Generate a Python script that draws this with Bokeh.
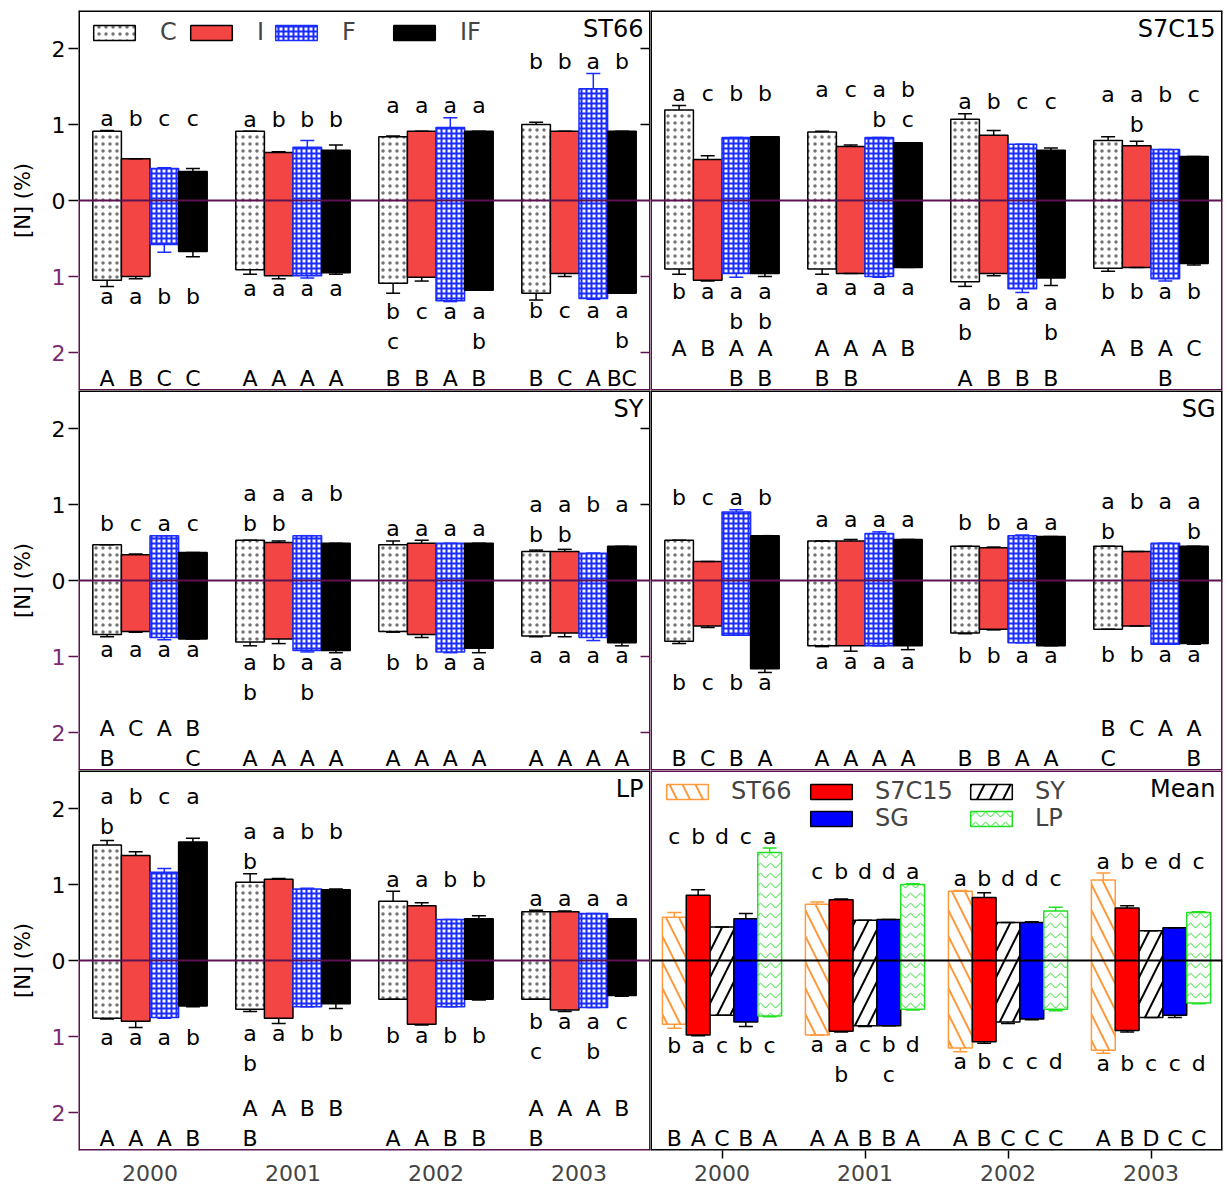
import math
from bokeh.plotting import figure
from bokeh.models import (Range1d, LinearAxis, FixedTicker, CustomJSTickFormatter, Label,
                          Span, Legend, LegendItem)
from bokeh.layouts import gridplot
from bokeh.embed import file_html
from bokeh.resources import INLINE
from bokeh.core.properties import value

# ---------------------------------------------------------------- data
YEARS = ["2000", "2001", "2002", "2003"]
TREATMENTS = ["C", "I", "F", "IF"]
GENOTYPES = ["ST66", "S7C15", "SY", "SG", "LP"]
Y_TICKS = [-2, -1, 0, 1, 2]

# values are year-major: 2000 (C, I, F, IF), 2001 (...), ...
ST66_UP = [0.91, 0.55, 0.42, 0.38, 0.91, 0.63, 0.70, 0.66, 0.84, 0.91, 0.96, 0.91, 1.00, 0.91, 1.47, 0.91]
ST66_UP_ERR = [0.01, 0.00, 0.01, 0.04, 0.00, 0.01, 0.09, 0.07, 0.01, 0.00, 0.13, 0.00, 0.03, 0.00, 0.20, 0.00]
ST66_LO = [1.05, 1.00, 0.58, 0.67, 0.91, 0.99, 0.99, 0.95, 1.09, 1.01, 1.32, 1.18, 1.22, 0.96, 1.29, 1.22]
ST66_LO_ERR = [0.08, 0.03, 0.10, 0.07, 0.06, 0.04, 0.03, 0.02, 0.13, 0.05, 0.01, 0.00, 0.09, 0.04, 0.01, 0.00]
ST66_ABOVE = ["a", "b", "c", "c", "a", "b", "b", "b", "a", "a", "a", "a", "b", "b", "a", "b"]
ST66_BELOW = ["a", "a", "b", "b", "a", "a", "a", "a", "b\nc", "c", "a", "a\nb", "b", "c", "a", "a\nb"]
ST66_CAPS = ["A", "B", "C", "C", "A", "A", "A", "A", "B", "B", "A", "B", "B", "C", "A", "BC"]

S7C15_UP = [1.19, 0.54, 0.83, 0.84, 0.90, 0.71, 0.83, 0.76, 1.07, 0.86, 0.74, 0.66, 0.79, 0.72, 0.67, 0.58]
S7C15_UP_ERR = [0.06, 0.05, 0.00, 0.00, 0.01, 0.02, 0.00, 0.00, 0.07, 0.06, 0.00, 0.03, 0.05, 0.06, 0.00, 0.00]
S7C15_LO = [0.90, 1.05, 0.96, 0.96, 0.90, 0.96, 1.00, 0.88, 1.07, 0.96, 1.16, 1.02, 0.89, 0.88, 1.03, 0.83]
S7C15_LO_ERR = [0.07, 0.01, 0.05, 0.04, 0.07, 0.00, 0.01, 0.00, 0.06, 0.03, 0.05, 0.10, 0.04, 0.00, 0.03, 0.02]
S7C15_ABOVE = ["a", "c", "b", "b", "a", "c", "a\nb", "b\nc", "a", "b", "c", "c", "a", "a\nb", "b", "c"]
S7C15_BELOW = ["b", "a", "a\nb", "a\nb", "a", "a", "a", "a", "a\nb", "b", "a", "a\nb", "b", "b", "a", "b"]
S7C15_CAPS = ["A", "B", "A\nB", "A\nB", "A\nB", "A\nB", "A", "B", "A", "B", "B", "B", "A", "B", "A\nB", "C"]

SY_UP = [0.47, 0.34, 0.59, 0.37, 0.53, 0.50, 0.59, 0.49, 0.47, 0.49, 0.49, 0.49, 0.38, 0.38, 0.36, 0.45]
SY_UP_ERR = [0.00, 0.01, 0.00, 0.00, 0.00, 0.02, 0.00, 0.00, 0.05, 0.04, 0.00, 0.00, 0.02, 0.03, 0.00, 0.00]
SY_LO = [0.71, 0.67, 0.75, 0.77, 0.81, 0.77, 0.92, 0.92, 0.67, 0.71, 0.94, 0.89, 0.73, 0.69, 0.75, 0.82]
SY_LO_ERR = [0.03, 0.01, 0.03, 0.00, 0.05, 0.06, 0.02, 0.03, 0.01, 0.04, 0.01, 0.06, 0.01, 0.05, 0.04, 0.04]
SY_ABOVE = ["b", "c", "a", "c", "a\nb", "a\nb", "a", "b", "a", "a", "a", "a", "a\nb", "a\nb", "b", "a"]
SY_BELOW = ["a", "a", "a", "a", "a\nb", "b", "a\nb", "a", "b", "b", "a", "a", "a", "a", "a", "a"]
SY_CAPS = ["A\nB", "C", "A", "B\nC", "A", "A", "A", "A", "A", "A", "A", "A", "A", "A", "A", "A"]

SG_UP = [0.53, 0.25, 0.90, 0.59, 0.52, 0.52, 0.62, 0.54, 0.45, 0.43, 0.59, 0.58, 0.45, 0.38, 0.49, 0.45]
SG_UP_ERR = [0.00, 0.00, 0.03, 0.00, 0.00, 0.02, 0.02, 0.00, 0.00, 0.01, 0.01, 0.00, 0.00, 0.00, 0.00, 0.00]
SG_LO = [0.80, 0.60, 0.72, 1.16, 0.86, 0.86, 0.86, 0.86, 0.69, 0.64, 0.82, 0.86, 0.64, 0.60, 0.84, 0.83]
SG_LO_ERR = [0.03, 0.02, 0.00, 0.05, 0.01, 0.07, 0.00, 0.05, 0.01, 0.01, 0.00, 0.00, 0.00, 0.00, 0.00, 0.01]
SG_ABOVE = ["b", "c", "a", "b", "a", "a", "a", "a", "b", "b", "a", "a", "a\nb", "b", "a", "a\nb"]
SG_BELOW = ["b", "c", "b", "a", "a", "a", "a", "a", "b", "b", "a", "a", "b", "b", "a", "a"]
SG_CAPS = ["B", "C", "B", "A", "A", "A", "A", "A", "B", "B", "A", "A", "B\nC", "C", "A", "A\nB"]

LP_UP = [1.52, 1.38, 1.16, 1.56, 1.03, 1.07, 0.94, 0.93, 0.78, 0.72, 0.54, 0.55, 0.64, 0.64, 0.62, 0.55]
LP_UP_ERR = [0.06, 0.05, 0.05, 0.05, 0.11, 0.01, 0.01, 0.01, 0.13, 0.04, 0.00, 0.04, 0.02, 0.01, 0.00, 0.00]
LP_LO = [0.76, 0.80, 0.75, 0.60, 0.64, 0.76, 0.61, 0.57, 0.51, 0.84, 0.61, 0.51, 0.51, 0.65, 0.62, 0.46]
LP_LO_ERR = [0.01, 0.08, 0.01, 0.01, 0.03, 0.07, 0.00, 0.06, 0.00, 0.01, 0.00, 0.01, 0.00, 0.02, 0.00, 0.01]
LP_ABOVE = ["a\nb", "b", "c", "a", "a\nb", "a", "b", "b", "a", "a", "b", "b", "a", "a", "a", "a"]
LP_BELOW = ["a", "a", "a", "b", "a\nb", "a", "b", "b", "b", "a", "b", "b", "b\nc", "a", "a\nb", "c"]
LP_CAPS = ["A", "A", "A", "B", "A\nB", "A", "B", "B", "A", "A", "B", "B", "A\nB", "A", "A", "B"]

# mean panel, year-major: 2000 (ST66, S7C15, SY, SG, LP), ...
MEAN_UP = [0.57, 0.86, 0.44, 0.55, 1.42, 0.74, 0.80, 0.53, 0.54, 1.00,
           0.91, 0.83, 0.50, 0.50, 0.65, 1.06, 0.69, 0.39, 0.43, 0.63]
MEAN_UP_ERR = [0.06, 0.07, 0.00, 0.07, 0.06, 0.03, 0.01, 0.00, 0.00, 0.01,
               0.01, 0.06, 0.00, 0.01, 0.05, 0.09, 0.03, 0.00, 0.00, 0.01]
MEAN_LO = [0.84, 0.98, 0.72, 0.81, 0.73, 0.98, 0.93, 0.86, 0.86, 0.64,
           1.15, 1.07, 0.81, 0.77, 0.64, 1.18, 0.92, 0.75, 0.72, 0.56]
MEAN_LO_ERR = [0.05, 0.01, 0.00, 0.06, 0.01, 0.00, 0.01, 0.01, 0.00, 0.01,
               0.05, 0.02, 0.02, 0.01, 0.02, 0.04, 0.02, 0.00, 0.03, 0.01]
MEAN_ABOVE = ["c", "b", "d", "c", "a", "c", "b", "d", "d", "a",
              "a", "b", "d", "d", "c", "a", "b", "e", "d", "c"]
MEAN_BELOW = ["b", "a", "c", "b", "c", "a", "a\nb", "c", "b\nc", "d",
              "a", "b", "c", "c", "d", "a", "b", "c", "c", "d"]
MEAN_CAPS = ["B", "A", "C", "B", "A", "A", "A", "B", "B", "A",
             "A", "B", "C", "C", "C", "A", "B", "D", "C", "C"]

# ---------------------------------------------------------------- styling
FONT = "DejaVu Sans"
PURPLE_LINE = "#5C1250"
PURPLE_TEXT = "#7B2A72"
AXIS_W = 78
FRAME_W = 572
FRAME_H = 380
RIGHT_BORDER = 5
TOP_BORDER = 10
BOTTOM_BORDER = 40
PX = 5.0 / FRAME_H      # y data units per pixel
PXX = 4.0 / FRAME_W     # x data units per pixel
ROW = 30
ABOVE_GAP = 12          # centre of letter row above group maximum (px)
BELOW_GAP = 10          # centre of first letter row below group minimum (px)
CAPS_GAP = 12           # centre of last capital row above frame bottom (px)
CAP_PX = 7

TREAT_STYLE = {
    "C": dict(fill_color="white", line_color="black", hatch_pattern=".", hatch_color="black",
              hatch_scale=7, hatch_alpha=0.55),
    "I": dict(fill_color="#F44545", line_color="black"),
    "F": dict(fill_color="white", line_color="#1A2CFF", hatch_pattern="+", hatch_color="#1A2CFF",
              hatch_scale=5, hatch_weight=2),
    "IF": dict(fill_color="black", line_color="black"),
}
GENO_STYLE = {
    "ST66": dict(fill_color="white", line_color="#FF9A3C", hatch_pattern="\\", hatch_color="#FF9A3C",
                 hatch_scale=26, hatch_weight=2),
    "S7C15": dict(fill_color="#FF0000", line_color="black"),
    "SY": dict(fill_color="white", line_color="black", hatch_pattern="/", hatch_color="black",
               hatch_scale=26, hatch_weight=2),
    "SG": dict(fill_color="#0000FF", line_color="black"),
    "LP": dict(fill_color="white", line_color="#22E022", hatch_pattern="v", hatch_color="#22E022",
               hatch_scale=10, hatch_weight=1),
}


def bar_x(j, i, n, w):
    return j + 0.5 + (i - (n - 1) / 2.0) * w


def borders(row):
    return (TOP_BORDER if row == 0 else 0), (BOTTOM_BORDER if row == 2 else 0)


def base_fig(col, row):
    top, bot = borders(row)
    w = FRAME_W if col == 0 else FRAME_W + RIGHT_BORDER
    p = figure(width=w, height=FRAME_H + top + bot,
               x_range=Range1d(0, 4), y_range=Range1d(-2.5, 2.5),
               output_backend="svg", toolbar_location=None, tools="",
               x_axis_location=None, y_axis_location=None,
               min_border_left=0, min_border_right=RIGHT_BORDER if col == 1 else 0,
               min_border_top=top, min_border_bottom=bot,
               outline_line_color=None, background_fill_color="white",
               border_fill_color="white")
    p.xgrid.visible = False
    p.ygrid.visible = False
    return p


def axis_fig(row):
    """Narrow figure that carries the y tick labels (black above zero, purple below)."""
    top, bot = borders(row)
    p = figure(width=AXIS_W, height=FRAME_H + top + bot,
               x_range=Range1d(0, AXIS_W), y_range=Range1d(-2.5, 2.5),
               output_backend="svg", toolbar_location=None, tools="",
               x_axis_location=None, y_axis_location=None,
               min_border_left=0, min_border_right=0, min_border_top=top, min_border_bottom=bot,
               outline_line_color=None, background_fill_color="white", border_fill_color="white")
    p.xgrid.visible = False
    p.ygrid.visible = False
    colors = [PURPLE_TEXT if t < 0 else "black" for t in Y_TICKS]
    n = len(Y_TICKS)
    p.segment(x0=[AXIS_W - 10] * n, y0=Y_TICKS, x1=[AXIS_W] * n, y1=Y_TICKS,
              line_color=[PURPLE_LINE if t < 0 else "black" for t in Y_TICKS], line_width=1.5)
    p.text(x=[AXIS_W - 13] * n, y=Y_TICKS, text=[str(abs(t)) for t in Y_TICKS], text_color=colors,
           text_align="right", text_baseline="middle", text_font=value(FONT), text_font_size="22px")
    p.text(x=[22], y=[0], text=["[N] (%)"], angle=math.pi / 2, text_align="center",
           text_baseline="middle", text_font=value(FONT), text_font_size="21px", text_color="black")
    return p


def add_x_axis(p, tick_out, standoff):
    xax = LinearAxis(ticker=FixedTicker(ticks=[j + 0.5 for j in range(len(YEARS))]),
                     formatter=CustomJSTickFormatter(args=dict(years=YEARS),
                                                     code="return years[Math.round(tick - 0.5)];"),
                     major_label_text_font=FONT, major_label_text_font_size="22px",
                     major_label_standoff=standoff, major_tick_out=tick_out, major_tick_in=0,
                     minor_tick_out=0, minor_tick_in=0, axis_line_color=None,
                     major_tick_line_width=1.5)
    p.add_layout(xax, "below")


def draw_edges(p, upper_color, lower_color):
    p.segment(x0=[0, 0, 4, 4, 0, 0], y0=[0, 0, 0, 0, 2.5, -2.5],
              x1=[0, 0, 4, 4, 4, 4], y1=[2.5, -2.5, 2.5, -2.5, 2.5, -2.5],
              line_color=[upper_color, lower_color, upper_color, lower_color, upper_color, lower_color],
              line_width=3)


def draw_right_ticks(p):
    ts = [t for t in Y_TICKS if t != 0]
    p.segment(x0=[4 - 10 * PXX] * len(ts), y0=ts, x1=[4] * len(ts), y1=ts,
              line_color=["black" if t > 0 else PURPLE_LINE for t in ts], line_width=1.5)


def draw_groups(p, keys, styles, w, up, up_err, lo, lo_err):
    n = len(keys)
    rends = {}
    cap = CAP_PX * PXX
    for i, key in enumerate(keys):
        st = styles[key]
        idx = [j * n + i for j in range(len(YEARS))]
        xs = [bar_x(j, i, n, w) for j in range(len(YEARS))]
        tops = [up[k] for k in idx]
        bots = [-lo[k] for k in idx]
        r = p.vbar(x=xs, width=w, top=tops, bottom=bots, line_width=1.5, **st)
        rends[key] = r
        ec = st["line_color"]
        ut = [up[k] + up_err[k] for k in idx]
        lb = [-(lo[k] + lo_err[k]) for k in idx]
        p.segment(x0=xs + xs, y0=tops + bots, x1=xs + xs, y1=ut + lb, line_color=ec, line_width=1.5)
        p.segment(x0=[x - cap for x in xs] * 2, y0=ut + lb, x1=[x + cap for x in xs] * 2, y1=ut + lb,
                  line_color=ec, line_width=1.5)
    return rends


def draw_letters(p, keys, w, up, up_err, lo, lo_err, above, below, caps):
    n = len(keys)
    tx, ty, tt = [], [], []
    for j in range(len(YEARS)):
        idx = [j * n + i for i in range(n)]
        gmax = max(up[k] + up_err[k] for k in idx)
        gmin = min(-(lo[k] + lo_err[k]) for k in idx)
        for labels, kind in ((above, "above"), (below, "below"), (caps, "caps")):
            lines = [labels[k].split("\n") for k in idx]
            ng = max(len(l) for l in lines)
            for i, ls in enumerate(lines):
                for r, s in enumerate(ls):
                    if kind == "above":
                        y = gmax + (ABOVE_GAP + (ng - 1 - r) * ROW) * PX
                    elif kind == "below":
                        y = gmin - (BELOW_GAP + r * ROW) * PX
                    else:
                        y = -2.5 + (CAPS_GAP + (ng - 1 - r) * ROW) * PX
                    tx.append(bar_x(j, i, n, w))
                    ty.append(y)
                    tt.append(s)
    p.text(x=tx, y=ty, text=tt, text_font=value(FONT), text_font_size="22px",
           text_align="center", text_baseline="middle", text_color="black")


def panel_name(p, name):
    p.add_layout(Label(x=4, y=2.5, x_offset=-7, y_offset=-4, text=name, text_align="right",
                       text_baseline="top", text_font=FONT, text_font_size="24px", text_color="black"))


def single_legend(p, label, renderer, loc, standoff):
    leg = Legend(items=[LegendItem(label=label, renderers=[renderer])], location=loc,
                 orientation="horizontal", glyph_width=52, glyph_height=19, label_standoff=standoff,
                 label_text_font=FONT, label_text_font_size="24px", padding=0, margin=0, spacing=0,
                 border_line_color=None, background_fill_alpha=0)
    p.add_layout(leg)


def genotype_panel(name, col, row, up, up_err, lo, lo_err, above, below, caps):
    p = base_fig(col, row)
    rends = draw_groups(p, TREATMENTS, TREAT_STYLE, 0.2, up, up_err, lo, lo_err)
    p.add_layout(Span(location=0, dimension="width", line_color=PURPLE_LINE, line_width=2))
    draw_letters(p, TREATMENTS, 0.2, up, up_err, lo, lo_err, above, below, caps)
    draw_edges(p, "black", PURPLE_LINE)
    if col == 0 and row < 2:
        draw_right_ticks(p)
    if row == 2:
        add_x_axis(p, 0, 14)
    panel_name(p, name)
    return p, rends


p1, r1 = genotype_panel("ST66", 0, 0, ST66_UP, ST66_UP_ERR, ST66_LO, ST66_LO_ERR, ST66_ABOVE, ST66_BELOW, ST66_CAPS)
for key, lx in zip(TREATMENTS, [10, 107, 192, 310]):
    single_legend(p1, key, r1[key], (lx, 344), 20)
p2, _ = genotype_panel("S7C15", 1, 0, S7C15_UP, S7C15_UP_ERR, S7C15_LO, S7C15_LO_ERR, S7C15_ABOVE, S7C15_BELOW, S7C15_CAPS)
p3, _ = genotype_panel("SY", 0, 1, SY_UP, SY_UP_ERR, SY_LO, SY_LO_ERR, SY_ABOVE, SY_BELOW, SY_CAPS)
p4, _ = genotype_panel("SG", 1, 1, SG_UP, SG_UP_ERR, SG_LO, SG_LO_ERR, SG_ABOVE, SG_BELOW, SG_CAPS)
p5, _ = genotype_panel("LP", 0, 2, LP_UP, LP_UP_ERR, LP_LO, LP_LO_ERR, LP_ABOVE, LP_BELOW, LP_CAPS)

# mean panel
p6 = base_fig(1, 2)
r6 = draw_groups(p6, GENOTYPES, GENO_STYLE, 1.0 / 6, MEAN_UP, MEAN_UP_ERR, MEAN_LO, MEAN_LO_ERR)
p6.add_layout(Span(location=0, dimension="width", line_color="black", line_width=2))
draw_letters(p6, GENOTYPES, 1.0 / 6, MEAN_UP, MEAN_UP_ERR, MEAN_LO, MEAN_LO_ERR, MEAN_ABOVE, MEAN_BELOW, MEAN_CAPS)
draw_edges(p6, PURPLE_LINE, "black")
add_x_axis(p6, 8, 6)
panel_name(p6, "Mean")
for key, loc in zip(GENOTYPES, [(11, 345), (155, 345), (315, 345), (155, 318), (315, 318)]):
    single_legend(p6, key, r6[key], loc, 18)

a1, a2, a3 = axis_fig(0), axis_fig(1), axis_fig(2)
grid = gridplot([[a1, p1, p2], [a2, p3, p4], [a3, p5, p6]], toolbar_location=None)
open("out.html", "w").write(file_html(grid, INLINE))
